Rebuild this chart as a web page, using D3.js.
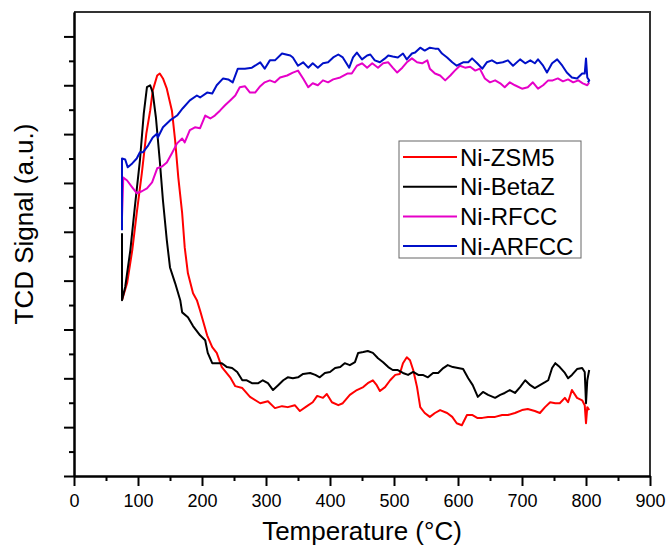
<!DOCTYPE html>
<html>
<head>
<meta charset="utf-8">
<script src="https://cdn.jsdelivr.net/npm/d3@7"></script>
<style>
  body { margin: 0; background: #fff; }
  svg { font-family: "Liberation Sans", Arial, sans-serif; }
  .line { fill: none; stroke-width: 2; stroke-linejoin: round; }
</style>
</head>
<body>
<svg id="chart"></svg>
<script>
// Temperature (°C), TCD signal (a.u.)
const zsm5 = [
  [75, 3.60], [83, 3.95], [91, 4.62], [98, 5.38], [106, 6.20], [113, 7.01], [119, 7.48], [123, 7.89],
  [130, 8.20], [134, 8.24], [139, 8.14], [145, 7.93], [153, 7.48], [158, 6.87], [163, 6.11], [169, 5.38],
  [173, 4.68], [178, 4.15], [186, 3.74], [192, 3.60], [197, 3.39], [208, 2.88], [216, 2.64], [223, 2.52],
  [231, 2.23], [244, 2.02], [252, 1.84], [263, 1.80], [275, 1.62], [291, 1.49], [303, 1.53], [314, 1.39],
  [325, 1.43], [334, 1.41], [345, 1.45], [353, 1.33], [364, 1.43], [373, 1.51], [380, 1.64], [389, 1.60],
  [395, 1.68], [403, 1.51], [413, 1.45], [420, 1.49], [431, 1.66], [442, 1.76], [452, 1.82], [459, 1.90],
  [467, 1.96], [473, 1.86], [478, 1.74], [486, 1.82], [494, 1.96], [502, 2.07], [509, 2.09], [514, 2.31],
  [520, 2.43], [525, 2.37], [530, 2.17], [536, 1.82], [541, 1.41], [548, 1.29], [556, 1.21], [564, 1.29],
  [572, 1.35], [583, 1.29], [591, 1.21], [598, 1.08], [606, 1.04], [614, 1.25], [622, 1.25], [630, 1.19],
  [638, 1.19], [647, 1.21], [658, 1.21], [669, 1.25], [678, 1.25], [689, 1.29], [700, 1.35], [709, 1.37],
  [720, 1.33], [728, 1.29], [736, 1.41], [744, 1.51], [752, 1.49], [759, 1.49], [767, 1.60], [772, 1.51],
  [778, 1.76], [786, 1.60], [794, 1.55], [798, 1.45], [800, 1.08], [802, 1.41], [805, 1.35]
];
const betaZ = [
  [75, 4.97], [75, 3.60], [80, 3.87], [88, 4.62], [95, 5.50], [103, 6.46], [109, 7.42], [114, 7.96],
  [119, 8.00], [123, 7.85], [128, 7.34], [134, 6.46], [139, 5.64], [145, 4.83], [150, 4.27], [158, 3.95],
  [166, 3.60], [169, 3.35], [178, 3.25], [186, 3.07], [197, 2.88], [205, 2.78], [209, 2.52], [216, 2.31],
  [223, 2.31], [231, 2.31], [239, 2.23], [247, 2.21], [255, 2.13], [263, 1.96], [270, 1.96], [278, 1.90],
  [288, 1.90], [295, 1.96], [303, 1.90], [311, 1.76], [319, 1.86], [327, 1.96], [334, 2.02], [342, 2.00],
  [350, 2.02], [358, 2.09], [369, 2.11], [377, 2.07], [384, 2.02], [392, 2.11], [400, 2.13], [408, 2.21],
  [416, 2.23], [423, 2.31], [431, 2.27], [439, 2.33], [444, 2.52], [452, 2.54], [459, 2.56], [467, 2.52],
  [475, 2.41], [483, 2.33], [491, 2.23], [498, 2.17], [506, 2.17], [514, 2.11], [522, 2.07], [530, 2.13],
  [538, 2.07], [545, 2.07], [553, 2.02], [561, 2.11], [569, 2.11], [577, 2.21], [584, 2.27], [592, 2.23],
  [600, 2.21], [608, 2.19], [616, 2.00], [623, 1.86], [631, 1.62], [639, 1.72], [647, 1.66], [658, 1.60],
  [666, 1.66], [673, 1.70], [681, 1.76], [689, 1.70], [697, 1.82], [705, 1.96], [713, 1.86], [720, 1.80],
  [728, 1.86], [736, 1.92], [741, 1.96], [747, 2.21], [752, 2.31], [759, 2.23], [767, 2.11], [772, 2.00],
  [778, 2.07], [786, 2.19], [794, 2.21], [798, 2.13], [800, 1.49], [802, 1.96], [805, 2.17]
];
const rfcc = [
  [75, 5.30], [77, 6.11], [83, 6.05], [91, 5.91], [98, 5.79], [106, 5.83], [114, 5.89], [122, 6.01],
  [130, 6.30], [138, 6.34], [145, 6.42], [153, 6.61], [161, 6.81], [169, 6.91], [173, 6.83], [181, 7.08],
  [189, 7.14], [197, 7.12], [205, 7.38], [213, 7.32], [220, 7.38], [228, 7.48], [236, 7.59], [244, 7.69],
  [252, 7.79], [259, 7.96], [267, 7.98], [275, 7.85], [283, 7.85], [291, 7.98], [298, 8.06], [306, 8.10],
  [314, 8.06], [322, 8.16], [333, 8.20], [342, 8.26], [350, 8.30], [358, 8.14], [366, 7.96], [373, 8.04],
  [381, 8.00], [389, 8.10], [397, 8.06], [405, 8.12], [416, 8.16], [427, 8.24], [434, 8.24], [442, 8.40],
  [450, 8.45], [458, 8.36], [466, 8.45], [475, 8.36], [483, 8.45], [491, 8.47], [498, 8.36], [505, 8.26],
  [513, 8.36], [520, 8.47], [528, 8.55], [536, 8.47], [544, 8.45], [552, 8.51], [556, 8.34], [564, 8.24],
  [572, 8.20], [580, 8.10], [588, 8.20], [595, 8.30], [603, 8.40], [611, 8.36], [619, 8.38], [627, 8.30],
  [634, 8.34], [642, 8.14], [650, 8.06], [658, 8.10], [666, 8.04], [673, 7.96], [681, 8.06], [689, 8.00],
  [700, 7.93], [709, 7.96], [717, 8.06], [725, 7.93], [733, 8.00], [741, 8.10], [748, 8.10], [756, 8.14],
  [764, 8.08], [772, 8.12], [780, 8.06], [788, 8.10], [795, 8.04], [802, 8.00], [805, 8.06]
];
const arfcc = [
  [75, 5.03], [75, 6.50], [80, 6.48], [84, 6.32], [91, 6.40], [98, 6.50], [103, 6.63], [108, 6.63],
  [116, 6.77], [123, 6.93], [130, 7.01], [131, 6.93], [139, 7.14], [150, 7.28], [161, 7.38], [170, 7.53],
  [181, 7.69], [192, 7.79], [197, 7.75], [208, 7.85], [216, 7.83], [223, 8.00], [233, 8.14], [241, 8.12],
  [248, 8.06], [256, 8.34], [267, 8.34], [278, 8.36], [291, 8.47], [298, 8.34], [306, 8.51], [314, 8.51],
  [325, 8.65], [338, 8.61], [342, 8.57], [350, 8.40], [358, 8.47], [366, 8.36], [373, 8.45], [381, 8.36],
  [389, 8.45], [397, 8.47], [405, 8.57], [413, 8.63], [420, 8.57], [430, 8.36], [436, 8.57], [442, 8.67],
  [450, 8.53], [458, 8.61], [463, 8.63], [470, 8.51], [478, 8.47], [486, 8.55], [491, 8.61], [498, 8.59],
  [506, 8.57], [514, 8.65], [520, 8.53], [528, 8.65], [533, 8.67], [541, 8.77], [548, 8.71], [556, 8.77],
  [564, 8.75], [569, 8.75], [575, 8.65], [583, 8.57], [591, 8.47], [598, 8.40], [608, 8.47], [616, 8.47],
  [622, 8.55], [630, 8.45], [638, 8.34], [645, 8.47], [653, 8.51], [661, 8.45], [670, 8.47], [678, 8.51],
  [686, 8.40], [697, 8.53], [705, 8.45], [713, 8.51], [720, 8.45], [725, 8.53], [733, 8.40], [739, 8.26],
  [747, 8.45], [755, 8.53], [763, 8.40], [770, 8.26], [778, 8.16], [786, 8.14], [794, 8.24], [798, 8.24],
  [800, 8.55], [802, 8.16], [805, 8.10], [803, 8.06]
];

const seriesNames = ["Ni-ZSM5", "Ni-BetaZ", "Ni-RFCC", "Ni-ARFCC"];
const seriesColors = ["#ff0000", "#000000", "#e600c8", "#0010c8"];
const seriesData = [zsm5, betaZ, rfcc, arfcc];
const xMajorTicks = [0, 100, 200, 300, 400, 500, 600, 700, 800, 900];
const xMinorTicks = [50, 150, 250, 350, 450, 550, 650, 750, 850];
const yMajorTicks = [0, 1, 2, 3, 4, 5, 6, 7, 8, 9];
const yMinorTicks = [0.5, 1.5, 2.5, 3.5, 4.5, 5.5, 6.5, 7.5, 8.5];

// Chart dimensions
const width = 669;
const height = 547;
const margin = { top: 12, right: 19, bottom: 71, left: 74 };
const chartWidth = width - margin.left - margin.right;
const chartHeight = height - margin.top - margin.bottom;

const xScale = d3.scaleLinear().domain([0, 900]).range([margin.left, margin.left + chartWidth]);
const yScale = d3.scaleLinear().domain([0, 9.5]).range([margin.top + chartHeight, margin.top]);

const svg = d3.select("#chart").attr("width", width).attr("height", height);

// Frame (top and right)
svg.append("path")
  .attr("d", `M${margin.left},${margin.top}H${margin.left + chartWidth}V${margin.top + chartHeight}`)
  .attr("fill", "none")
  .attr("stroke", "#333")
  .attr("stroke-width", 2);

// Curves
const line = d3.line().x((d) => xScale(d[0])).y((d) => yScale(d[1]));
seriesData.forEach(function (data, i) {
  svg.append("path")
    .datum(data)
    .attr("class", "line")
    .attr("d", line)
    .attr("stroke", seriesColors[i]);
});

// Axes
const xAxis = d3.axisBottom(xScale).tickValues(xMajorTicks).tickSize(10).tickPadding(8).tickSizeOuter(0);
const xMinor = d3.axisBottom(xScale).tickValues(xMinorTicks).tickSize(5).tickFormat("").tickSizeOuter(0);
const yAxis = d3.axisLeft(yScale).tickValues(yMajorTicks).tickSize(10).tickFormat("").tickSizeOuter(0);
const yMinor = d3.axisLeft(yScale).tickValues(yMinorTicks).tickSize(5).tickFormat("").tickSizeOuter(0);

const gx = svg.append("g").attr("transform", `translate(0, ${margin.top + chartHeight})`).call(xAxis);
svg.append("g").attr("transform", `translate(0, ${margin.top + chartHeight})`).call(xMinor);
svg.append("g").attr("transform", `translate(${margin.left}, 0)`).call(yAxis);
svg.append("g").attr("transform", `translate(${margin.left}, 0)`).call(yMinor);

svg.selectAll(".domain, .tick line").attr("stroke", "#000").attr("stroke-width", 2);
gx.selectAll("text")
  .style("font-size", "18px")
  .style("font-family", "Liberation Sans, Arial, sans-serif")
  .attr("fill", "#000");

// Axis labels
svg.append("text")
  .attr("x", xScale(450))
  .attr("y", 540)
  .style("text-anchor", "middle")
  .style("font-size", "26px")
  .text("Temperature (°C)");

svg.append("text")
  .attr("transform", "translate(33, 224) rotate(-90)")
  .style("text-anchor", "middle")
  .style("font-size", "26px")
  .text("TCD Signal (a.u.)");

// Legend
const legend = svg.append("g").attr("transform", "translate(399, 141)");
legend.append("rect")
  .attr("width", 182)
  .attr("height", 117)
  .attr("fill", "#fff")
  .attr("stroke", "#666")
  .attr("stroke-width", 1);

const legendItems = legend.selectAll(".legend-item")
  .data(seriesNames)
  .enter()
  .append("g")
  .attr("class", "legend-item")
  .attr("transform", (d, i) => `translate(0, ${16 + i * 29.7})`);

legendItems.append("line")
  .attr("x1", 4)
  .attr("x2", 58)
  .attr("stroke", (d, i) => seriesColors[i])
  .attr("stroke-width", 2);

legendItems.append("text")
  .attr("x", 61)
  .attr("y", 8.5)
  .style("font-size", "24px")
  .text((d) => d);
</script>
</body>
</html>
